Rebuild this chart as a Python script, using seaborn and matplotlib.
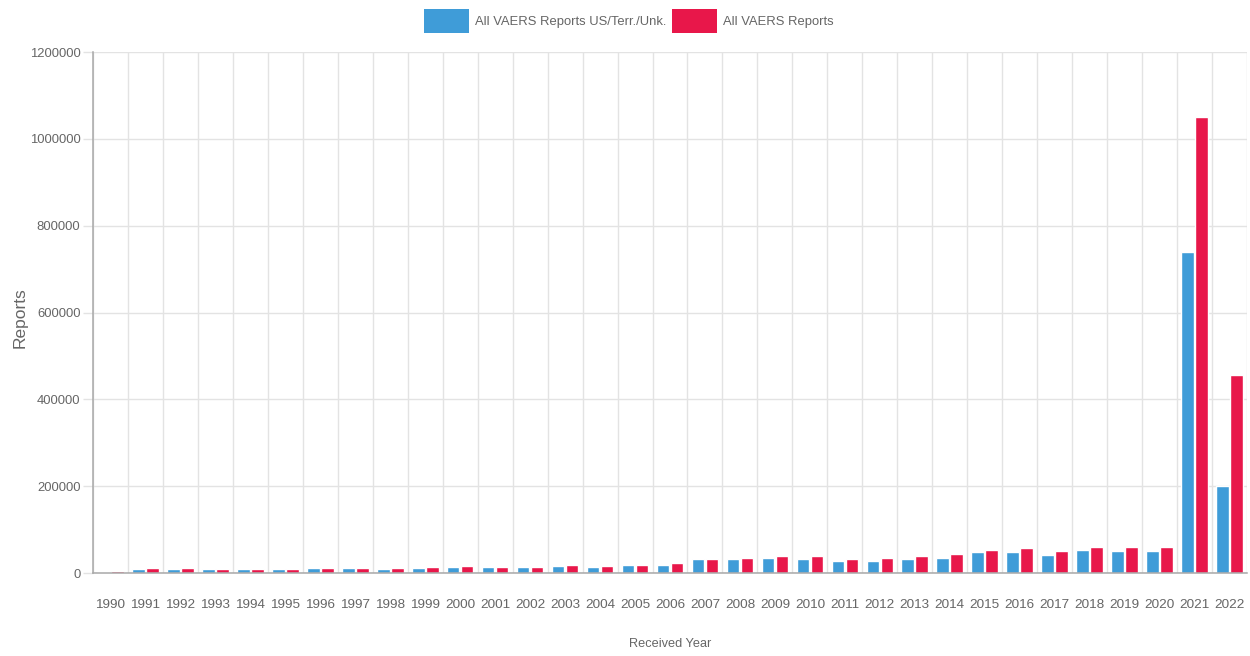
import seaborn as sns
import matplotlib
import matplotlib.pyplot as plt
import pandas as pd
from matplotlib.patches import Patch
from matplotlib.ticker import FixedLocator

matplotlib.use('Agg')

# данные
years = list(range(1990, 2023))
us_terr_unk = [3000, 10000, 10000, 9500, 9500, 9000, 10500, 10800, 9800, 11500,
               13800, 13000, 13000, 16500, 15000, 17700, 19000, 32000, 32000, 34000,
               33000, 27600, 28500, 32000, 35500, 47500, 49000, 40600, 52000, 51000,
               51000, 740000, 200500]
all_reports = [3500, 10700, 10500, 10000, 10000, 10000, 11500, 11500, 10700, 13000,
               15200, 14500, 15000, 18000, 17000, 19000, 22000, 33000, 35000, 40000,
               39000, 33000, 34000, 38500, 43700, 53700, 56700, 50000, 60000, 60700,
               60700, 1049600, 455000]
series_names = ['All VAERS Reports US/Terr./Unk.', 'All VAERS Reports']
colors = ['#3f9cd8', '#e8174a']

text_grey = '#666666'
grid_grey = '#e3e3e3'
axis_grey = '#a8a8a8'


def build_frame():
    rows = []
    for y, a, b in zip(years, us_terr_unk, all_reports):
        rows.append({'year': str(y), 'series': series_names[0], 'reports': a})
        rows.append({'year': str(y), 'series': series_names[1], 'reports': b})
    return pd.DataFrame(rows)


def draw():
    df = build_frame()
    sns.set_theme(style='white')
    plt.rcParams['font.family'] = ['Liberation Sans', 'DejaVu Sans']

    fig = plt.figure(figsize=(12.5, 6.56), dpi=100)
    ax = fig.add_axes([0.0744, 0.1265, 0.9232, 0.7942])

    sns.barplot(data=df, x='year', y='reports', hue='series', hue_order=series_names,
                palette=colors, width=0.8, gap=0.1, ax=ax, legend=False,
                saturation=1, errorbar=None, zorder=3)

    ax.set_xlim(-0.5, len(years) - 0.5)
    ax.set_ylim(0, 1200000)
    ax.set_yticks(range(0, 1200001, 200000))
    ax.set_yticklabels([str(v) for v in range(0, 1200001, 200000)])

    # вертикальная сетка между категориями
    ax.xaxis.set_minor_locator(FixedLocator([i - 0.5 for i in range(len(years) + 1)]))
    ax.grid(which='minor', axis='x', color=grid_grey, linewidth=1, zorder=0)
    ax.grid(which='major', axis='y', color=grid_grey, linewidth=1, zorder=0)
    ax.tick_params(axis='x', which='minor', length=12, color=grid_grey, width=1)
    ax.tick_params(axis='x', which='major', length=0, pad=19, labelsize=9.7, labelcolor=text_grey)
    ax.tick_params(axis='y', which='major', length=7, color=grid_grey, width=1, pad=2,
                   labelsize=9.4, labelcolor=text_grey, left=True)

    for side in ['top', 'right']:
        ax.spines[side].set_visible(False)
    for side in ['left', 'bottom']:
        ax.spines[side].set_color(axis_grey)
        ax.spines[side].set_linewidth(1.1)
        ax.spines[side].set_zorder(4)

    ax.set_xlabel('Received Year', fontsize=9.2, color=text_grey, labelpad=19)
    ax.set_ylabel('Reports', fontsize=12.5, color=text_grey)
    ax.yaxis.set_label_coords(-0.057, 0.49)

    handles = [Patch(facecolor=c, edgecolor='none') for c in colors]
    fig.legend(handles, series_names, loc='upper center', bbox_to_anchor=(0.503, 1.0),
               ncol=2, frameon=False, fontsize=9.4, handlelength=3.45, handleheight=2.4,
               handletextpad=0.45, columnspacing=0.45, labelcolor=text_grey,
               borderaxespad=0.3)

    fig.savefig('out.png', dpi=100)


if __name__ == '__main__':
    draw()
